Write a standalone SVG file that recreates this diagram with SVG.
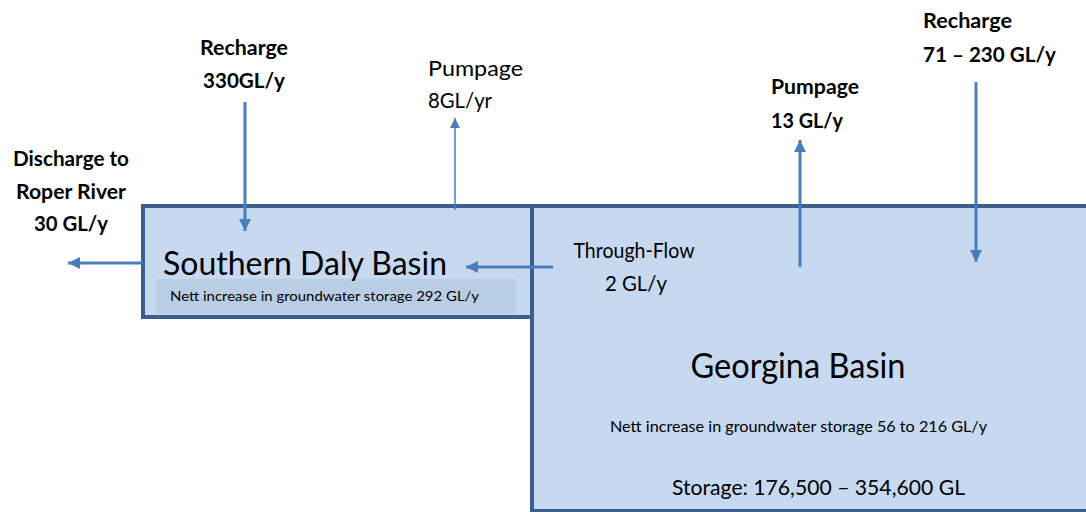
<svg xmlns="http://www.w3.org/2000/svg" width="1086" height="512" viewBox="0 0 1086 512">
  <style>
    .basin { fill: #c6d9f1; stroke: #3a5f8e; stroke-width: 4; }
    .band { fill: #b9cde5; }
    .flow { fill: none; stroke: #4a7ebb; stroke-width: 3; }
    .thin { fill: none; stroke: #4a7ebb; stroke-width: 1.5; }
    text { font-family: Lato, "Open Sans", "Liberation Sans", sans-serif; fill: #000; }
    .lbl { font-size: 20px; }
    .plain { font-size: 21px; }
    .bold { font-weight: bold; }
  </style>
  <defs>
    <marker id="head" markerUnits="userSpaceOnUse" markerWidth="14" markerHeight="12" refX="12" refY="6" orient="auto">
      <path d="M0,0 L12,6 L0,12 Z" fill="#4a7ebb"/>
    </marker>
    <marker id="headSmall" markerUnits="userSpaceOnUse" markerWidth="12" markerHeight="10" refX="10" refY="5" orient="auto">
      <path d="M0,0 L10,5 L0,10 Z" fill="#4a7ebb"/>
    </marker>
  </defs>

  <rect width="1086" height="512" fill="#ffffff"/>

  <!-- Georgina Basin (runs off the right edge) -->
  <g id="georgina">
    <path class="basin" d="M1090,206 L532,206 L532,511 L1090,511"/>
    <text x="798" y="378" font-size="34" text-anchor="middle" textLength="215" lengthAdjust="spacingAndGlyphs">Georgina Basin</text>
    <text x="610" y="432" font-size="15" textLength="377" lengthAdjust="spacingAndGlyphs">Nett increase in groundwater storage 56 to 216 GL/y</text>
    <text x="672" y="495" font-size="22" textLength="293" lengthAdjust="spacingAndGlyphs">Storage: 176,500 – 354,600 GL</text>
  </g>

  <!-- Southern Daly Basin -->
  <g id="southern-daly">
    <rect class="basin" x="143" y="206" width="389" height="111"/>
    <rect class="band" x="156" y="279" width="360" height="35"/>
    <text x="163" y="275" font-size="32" textLength="284" lengthAdjust="spacingAndGlyphs">Southern Daly Basin</text>
    <text x="170" y="301" font-size="14" textLength="309" lengthAdjust="spacingAndGlyphs">Nett increase in groundwater storage 292 GL/y</text>
  </g>

  <!-- Flow arrows -->
  <g id="connectors">
    <line class="flow" x1="143" y1="263" x2="68" y2="263" marker-end="url(#head)"/>
    <line class="flow" x1="245" y1="102" x2="245" y2="231" marker-end="url(#head)"/>
    <line class="thin" x1="455" y1="210" x2="455" y2="118" marker-end="url(#headSmall)"/>
    <line class="flow" x1="553" y1="267" x2="466" y2="267" marker-end="url(#head)"/>
    <line class="flow" x1="800" y1="267" x2="800" y2="140" marker-end="url(#head)"/>
    <line class="flow" x1="976" y1="82" x2="976" y2="262" marker-end="url(#head)"/>
  </g>

  <!-- Flow labels -->
  <g id="discharge-label">
    <text class="lbl bold" x="71" y="166" text-anchor="middle" textLength="116" lengthAdjust="spacingAndGlyphs">Discharge to</text>
    <text class="lbl bold" x="71" y="199" text-anchor="middle" textLength="110" lengthAdjust="spacingAndGlyphs">Roper River</text>
    <text class="lbl bold" x="71" y="231" text-anchor="middle" textLength="74" lengthAdjust="spacingAndGlyphs">30 GL/y</text>
  </g>
  <g id="recharge-south-label">
    <text class="lbl bold" x="244" y="55" text-anchor="middle" textLength="88" lengthAdjust="spacingAndGlyphs">Recharge</text>
    <text class="lbl bold" x="244" y="88" text-anchor="middle" textLength="82" lengthAdjust="spacingAndGlyphs">330GL/y</text>
  </g>
  <g id="pumpage-south-label">
    <text class="plain" x="428" y="76" textLength="95" lengthAdjust="spacingAndGlyphs">Pumpage</text>
    <text class="plain" x="428" y="108" textLength="64" lengthAdjust="spacingAndGlyphs">8GL/yr</text>
  </g>
  <g id="throughflow-label">
    <text class="plain" x="634" y="258" text-anchor="middle" textLength="121" lengthAdjust="spacingAndGlyphs">Through-Flow</text>
    <text class="plain" x="636" y="291" text-anchor="middle" textLength="62" lengthAdjust="spacingAndGlyphs">2 GL/y</text>
  </g>
  <g id="pumpage-north-label">
    <text class="lbl bold" x="771" y="94" textLength="88" lengthAdjust="spacingAndGlyphs">Pumpage</text>
    <text class="lbl bold" x="771" y="128" textLength="72" lengthAdjust="spacingAndGlyphs">13 GL/y</text>
  </g>
  <g id="recharge-north-label">
    <text class="lbl bold" x="923" y="28" textLength="89" lengthAdjust="spacingAndGlyphs">Recharge</text>
    <text class="lbl bold" x="923" y="62" textLength="133" lengthAdjust="spacingAndGlyphs">71 – 230 GL/y</text>
  </g>
</svg>
